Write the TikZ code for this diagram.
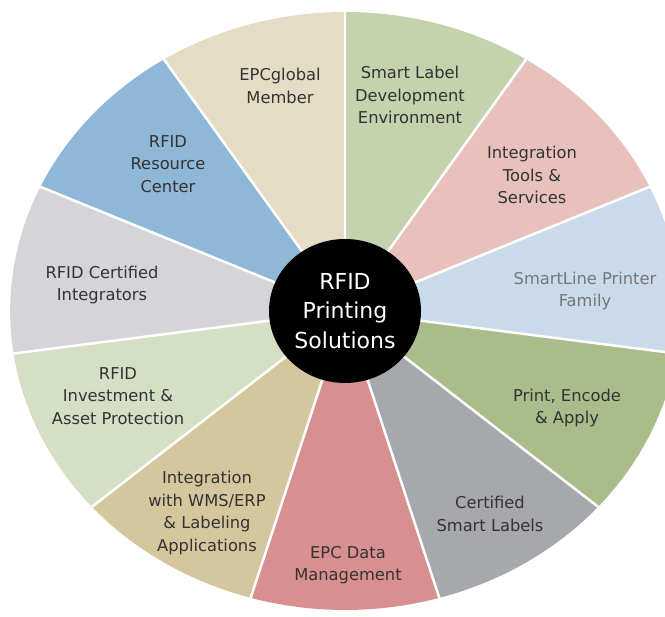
\documentclass[tikz,border=0pt]{standalone}
\usepackage{fontspec}
\setmainfont{DejaVu Sans}
\usetikzlibrary{shapes.geometric}

% sector fills, clockwise from twelve o'clock
\definecolor{secSmart}{HTML}{C4D2AD}
\definecolor{secTools}{HTML}{E8C1BD}
\definecolor{secLine}{HTML}{C9DAEA}
\definecolor{secPrint}{HTML}{A9BC8A}
\definecolor{secCert}{HTML}{A7A8AC}
\definecolor{secData}{HTML}{D88F8F}
\definecolor{secWMS}{HTML}{D5C79D}
\definecolor{secInvest}{HTML}{D4DFC5}
\definecolor{secIntegr}{HTML}{D5D5D9}
\definecolor{secRes}{HTML}{8FB7D7}
\definecolor{secEPC}{HTML}{E5DCC5}
\definecolor{labelgray}{HTML}{333333}
\definecolor{softgray}{HTML}{777777}

\begin{document}
\begin{tikzpicture}[x=1pt,y=1pt,
  seglabel/.style={align=center, text=labelgray, inner sep=0pt,
    font=\fontsize{16.3}{22.5}\selectfont},
  hublabel/.style={align=center, text=white, inner sep=0pt,
    font=\fontsize{22}{29.5}\selectfont},
  spoke/.style={white, line width=2.5pt}]
\useasboundingbox (0,0) rectangle (665,617);
\clip (0,0) rectangle (665,617);

\coordinate (hub) at (345,306);

% the wheel: eleven equal sectors, stretched sideways
\begin{scope}[shift={(hub)}, xscale=1.12]
  \foreach \c [count=\i from 0] in {secSmart,secTools,secLine,secPrint,secCert,secData,secWMS,secInvest,secIntegr,secRes,secEPC}{
    \pgfmathsetmacro\a{90-\i*360/11}
    \pgfmathsetmacro\b{90-(\i+1)*360/11}
    \fill[\c] (0,0) -- (\a:299) arc[start angle=\a, end angle=\b, radius=299] -- cycle;
  }
  \foreach \i in {0,...,10}{
    \draw[spoke] (0,0) -- ({90-\i*360/11}:299);
  }
\end{scope}

% black hub
\fill[black] (hub) ellipse [x radius=76, y radius=72];
\node[hublabel] (hubtext) at (hub) {RFID\\Printing\\Solutions};

% sector labels
\node[seglabel] (smart)   at (410,522) {Smart Label\\Development\\Environment};
\node[seglabel] (tools)   at (532,442) {Integration\\Tools \&\\Services};
\node[seglabel, text=softgray] (line) at (585,326) {SmartLine Printer\\Family};
\node[seglabel] (print)   at (567,209) {Print, Encode\\\& Apply};
\node[seglabel] (cert)    at (490,103) {Certified\\Smart Labels};
\node[seglabel] (data)    at (348,52)  {EPC Data\\Management};
\node[seglabel] (wms)     at (207,104) {Integration\\with WMS/ERP\\\& Labeling\\Applications};
\node[seglabel] (invest)  at (118,221) {RFID\\Investment \&\\Asset Protection};
\node[seglabel] (integr)  at (102,332) {RFID Certified\\Integrators};
\node[seglabel] (res)     at (168,453) {RFID\\Resource\\Center};
\node[seglabel] (epc)     at (280,531) {EPCglobal\\Member};
\end{tikzpicture}
\end{document}
